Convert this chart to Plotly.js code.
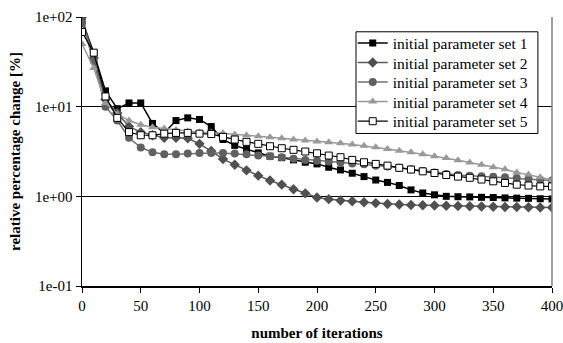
<!DOCTYPE html>
<html><head><meta charset="utf-8">
<script src="https://cdn.plot.ly/plotly-3.0.1.min.js"></script>
<style>html,body{margin:0;padding:0;background:#fff}#chart{width:563px;height:343px}</style>
</head><body><div id="chart"></div>
<script>
const iterations = [0,10,20,30,40,50,60,70,80,90,100,110,120,130,140,150,160,170,180,190,200,210,220,230,240,250,260,270,280,290,300,310,320,330,340,350,360,370,380,390,400];
const set1 = [92,40,15,9.5,11,11,6.5,5.1,7.0,7.5,7.2,6.0,4.3,3.7,3.35,3.05,2.8,2.7,2.55,2.4,2.3,2.11,1.97,1.81,1.66,1.52,1.43,1.32,1.18,1.09,1.04,1.0,0.99,0.985,0.975,0.97,0.96,0.955,0.95,0.94,0.935];
const set2 = [100,35,12,8.5,6.0,5.2,4.8,4.5,4.5,4.45,3.85,3.2,2.6,2.25,1.95,1.7,1.5,1.35,1.2,1.08,0.97,0.93,0.9,0.88,0.86,0.84,0.82,0.81,0.8,0.795,0.79,0.785,0.78,0.775,0.77,0.765,0.76,0.76,0.755,0.75,0.75];
const set3 = [85,32,10,7.0,4.5,3.5,3.1,2.95,2.95,3.0,3.05,3.05,3.05,3.0,2.95,2.85,2.8,2.73,2.62,2.55,2.5,2.45,2.38,2.33,2.28,2.2,2.15,2.08,2.0,1.92,1.85,1.78,1.73,1.7,1.67,1.65,1.63,1.6,1.56,1.53,1.5];
const set4 = [50,27,11,8.3,7.0,6.3,5.9,5.7,5.5,5.3,5.2,5.15,5.05,4.9,4.8,4.67,4.56,4.45,4.3,4.19,4.1,4.0,3.9,3.78,3.66,3.53,3.38,3.22,3.1,2.95,2.8,2.68,2.53,2.38,2.25,2.11,2.0,1.85,1.75,1.63,1.52];
const set5 = [68,40,13,7.5,5.2,4.8,4.8,5.0,5.1,5.1,5.0,4.95,4.6,4.3,4.05,3.85,3.62,3.44,3.3,3.16,3.02,2.85,2.73,2.55,2.4,2.3,2.2,2.08,1.99,1.9,1.82,1.73,1.66,1.61,1.54,1.47,1.41,1.35,1.32,1.29,1.29];
const seriesNames = ['initial parameter set 1','initial parameter set 2','initial parameter set 3','initial parameter set 4','initial parameter set 5'];
const yTickVals = [0.1,1,10,100];
const yTickText = ['1e-01','1e+00','1e+01','1e+02'];
const xTickVals = [0,50,100,150,200,250,300,350,400];

const F = '"Liberation Serif","Times New Roman",serif';
const legendIds = ['legend','legend2','legend3','legend4','legend5'];
const traces = [
  {y:set1, line:{color:'#000',width:1.5}, marker:{symbol:'square',size:7,color:'#000'}},
  {y:set2, line:{color:'#5a5a5a',width:1.5}, marker:{symbol:'diamond',size:8,color:'#505050'}},
  {y:set3, line:{color:'#707070',width:1.5}, marker:{symbol:'circle',size:8,color:'#606060'}},
  {y:set4, line:{color:'#999',width:1.5}, marker:{symbol:'triangle-up',size:8,color:'#999'}},
  {y:set5, line:{color:'#000',width:1.2}, marker:{symbol:'square',size:7,color:'#fff',line:{color:'#000',width:1}}}
].map((t,i) => Object.assign({x:iterations, type:'scatter', mode:'lines+markers', name:seriesNames[i], legend:legendIds[i]}, t));

const rowY = [0.902,0.829,0.757,0.684,0.611];
const layout = {
  width:563, height:343,
  margin:{l:82,r:11,t:17,b:57},
  paper_bgcolor:'#fff', plot_bgcolor:'#fff',
  font:{family:F, size:15, color:'#000'},
  showlegend:true,
  xaxis:{range:[0,400], tickvals:xTickVals, ticks:'outside', ticklen:5, tickcolor:'#000', showline:true, linecolor:'#000', linewidth:1.5, showgrid:false, zeroline:false,
         ticklabeloverflow:'allow', tickfont:{family:F,size:15},
         title:{text:'<b>number of iterations</b>', font:{family:F,size:15}, standoff:15}},
  yaxis:{type:'log', range:[-1,2], tickvals:yTickVals, ticktext:yTickText, ticks:'outside', ticklen:5, tickcolor:'#000', showline:true, linecolor:'#000', linewidth:1.5,
         showgrid:true, gridcolor:'#000', gridwidth:1, zeroline:false,
         tickfont:{family:F,size:15},
         title:{text:'<b>relative percentage change [%]</b>', font:{family:F,size:15}, standoff:10}},
  shapes:[
    {type:'line', xref:'paper', yref:'paper', x0:1, x1:1, y0:0, y1:1, line:{color:'#808080', width:1.5}},
    {type:'rect', xref:'paper', yref:'paper', x0:0.583, x1:0.970, y0:0.567, y1:0.945, layer:'above', fillcolor:'#fff', line:{color:'#000', width:1}}
  ]
};
legendIds.forEach((id,i) => {
  layout[id] = {x:0.576, xanchor:'left', y:rowY[i], yanchor:'middle', bgcolor:'rgba(0,0,0,0)', borderwidth:0, font:{family:F,size:15.5}, itemwidth:30};
});
Plotly.newPlot('chart', traces, layout, {displayModeBar:false, staticPlot:true});
</script></body></html>
